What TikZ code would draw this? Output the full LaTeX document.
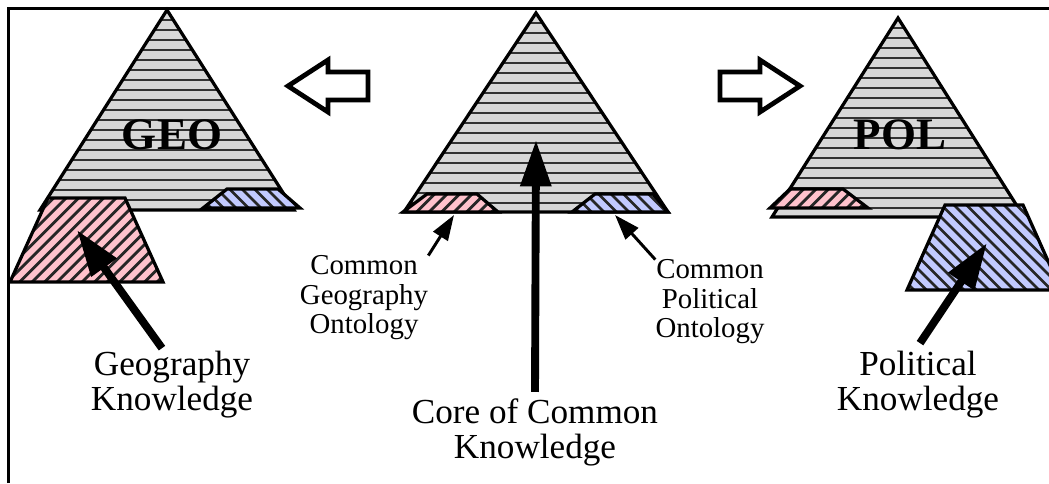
\documentclass[tikz,border=0pt]{standalone}
\usepackage{fontspec}
\setmainfont{Liberation Serif}
\usetikzlibrary{arrows.meta,calc}
\definecolor{pyrgray}{RGB}{216,216,216}
\definecolor{geopink}{RGB}{255,194,204}
\definecolor{polblue}{RGB}{194,202,255}
\tikzstyle{outline}=[line width=2.3pt,line join=miter]
\tikzstyle{stripe}=[line width=1.8pt,black!80]
\tikzstyle{hatch}=[line width=2pt,black!85]
\tikzstyle{bigarrow}=[line width=5.6pt,-{Triangle[length=33pt,width=21pt]}]
\tikzstyle{smallarrow}=[line width=2.1pt,-{Triangle[length=18pt,width=12pt]}]
\tikzstyle{hollowarrow}=[line width=3.4pt,line join=miter,fill=white]
\tikzstyle{bigname}=[font=\fontsize{32}{32}\selectfont\bfseries,inner sep=0pt]
\tikzstyle{knowlabel}=[font=\fontsize{25}{25}\selectfont,align=center,inner sep=0pt]
\tikzstyle{ontolabel}=[font=\fontsize{20.5}{21}\selectfont,align=center,inner sep=0pt]
\newcommand{\drawpyramid}[4]{

\pgfmathsetmacro{\ax}{#1}
\pgfmathsetmacro{\ay}{#2}
\pgfmathsetmacro{\hw}{#3}
\pgfmathsetmacro{\by}{#4}
\begin{scope}
\clip (\ax,\ay) -- (\ax-\hw,\by) -- (\ax+\hw,\by) -- cycle;
\fill[pyrgray] (\ax-\hw,\ay) rectangle (\ax+\hw,\by);
    \foreach \k in {1,2,...,21} {
        \draw[stripe] (\ax-\hw,\ay+\k*10) -- (\ax+\hw,\ay+\k*10);
    }
\end{scope}
\draw[outline] (\ax,\ay) -- (\ax-\hw,\by) -- (\ax+\hw,\by) -- cycle;
}
\newcommand{\drawpatch}[8]{
\pgfmathsetmacro{\slope}{#2}
\pgfmathsetmacro{\cx}{(#6+#7)/2}
\pgfmathsetmacro{\my}{(#5+#8)/2}
\pgfmathsetmacro{\dx}{\slope*100}
\begin{scope}
\clip (#3,#5) -- (#4,#5) -- (#7,#8) -- (#6,#8) -- cycle;
\fill[#1] (#3,#5) -- (#4,#5) -- (#7,#8) -- (#6,#8) -- cycle;
    \foreach \k in {-15,...,15} {
        \pgfmathsetmacro{\hx}{\cx+\k*12.5}
        \draw[hatch] (\hx-\dx,\my+100) -- (\hx+\dx,\my-100);
    }
\end{scope}
\draw[outline] (#3,#5) -- (#4,#5) -- (#7,#8) -- (#6,#8) -- cycle;
}
\newcommand{\drawblockarrow}[3]{
\pgfmathsetmacro{\tx}{#1}
\pgfmathsetmacro{\ty}{#2}
\pgfmathsetmacro{\d}{#3}
\draw[hollowarrow] (\tx,\ty) -- (\tx-\d*40,\ty-26) -- (\tx-\d*40,\ty-14) -- (\tx-\d*80,\ty-14)
    -- (\tx-\d*80,\ty+14) -- (\tx-\d*40,\ty+14) -- (\tx-\d*40,\ty+26) -- cycle;
}
\begin{document}
\begin{tikzpicture}[x=0.025cm,y=-0.025cm] % one unit = one pixel of the page, y going down
\useasboundingbox (0,0) rectangle (1049,483);
\draw[line width=2.2pt] (8.5,483) -- (8.5,8.5) -- (1049,8.5);

\drawpyramid{167}{10}{127}{210} % apex x, apex y, half width, base y
\drawpyramid{536}{13}{132}{212}
\drawpyramid{898}{18}{126}{217}

\drawpatch{geopink}{1}{48}{125}{198}{10}{163}{282} % colour, slope, top x1 x2 y, bottom x1 x2 y
\drawpatch{polblue}{-1}{227}{278}{189}{203}{300}{208}
\drawpatch{geopink}{1}{427}{477}{194}{403}{498}{212}
\drawpatch{polblue}{-1}{595}{653}{194}{572}{668}{212}
\drawpatch{geopink}{1}{790}{843}{189}{770}{868}{208}
\drawpatch{polblue}{-1}{945}{1023}{205}{907}{1061}{290}

\node[bigname] (geoname) at (172,135) {GEO};
\node[bigname] (polname) at (900,135) {POL};

\drawblockarrow{288}{86}{-1} % tip x, tip y, direction
\drawblockarrow{800}{86}{1}

\node[ontolabel] (geoonto) at (364,298) {Common\\Geography\\Ontology};
\node[ontolabel] (polonto) at (710,302) {Common\\Political\\Ontology};
\node[knowlabel] (geoknow) at (172,385) {Geography\\Knowledge};
\node[knowlabel] (polknow) at (918,385) {Political\\Knowledge};
\node[knowlabel] (core) at (535,432) {Core of Common\\Knowledge};

\coordinate (geotip) at (77,230);
\coordinate (coretip) at (536,140);
\coordinate (poltip) at (987,243);
\coordinate (geoontotip) at (454,215);
\coordinate (polontotip) at (615,215);

\draw[bigarrow] ($(geoknow.north)+(-10,-3)$) -- (geotip);
\draw[bigarrow] ($(core.north)+(0,-6)$) -- (coretip);
\draw[bigarrow] ($(polknow.north)+(2,-8)$) -- (poltip);
\draw[smallarrow] (geoonto.north east) -- (geoontotip);
\draw[smallarrow] (polonto.north west) -- (polontotip);
\end{tikzpicture}
\end{document}
